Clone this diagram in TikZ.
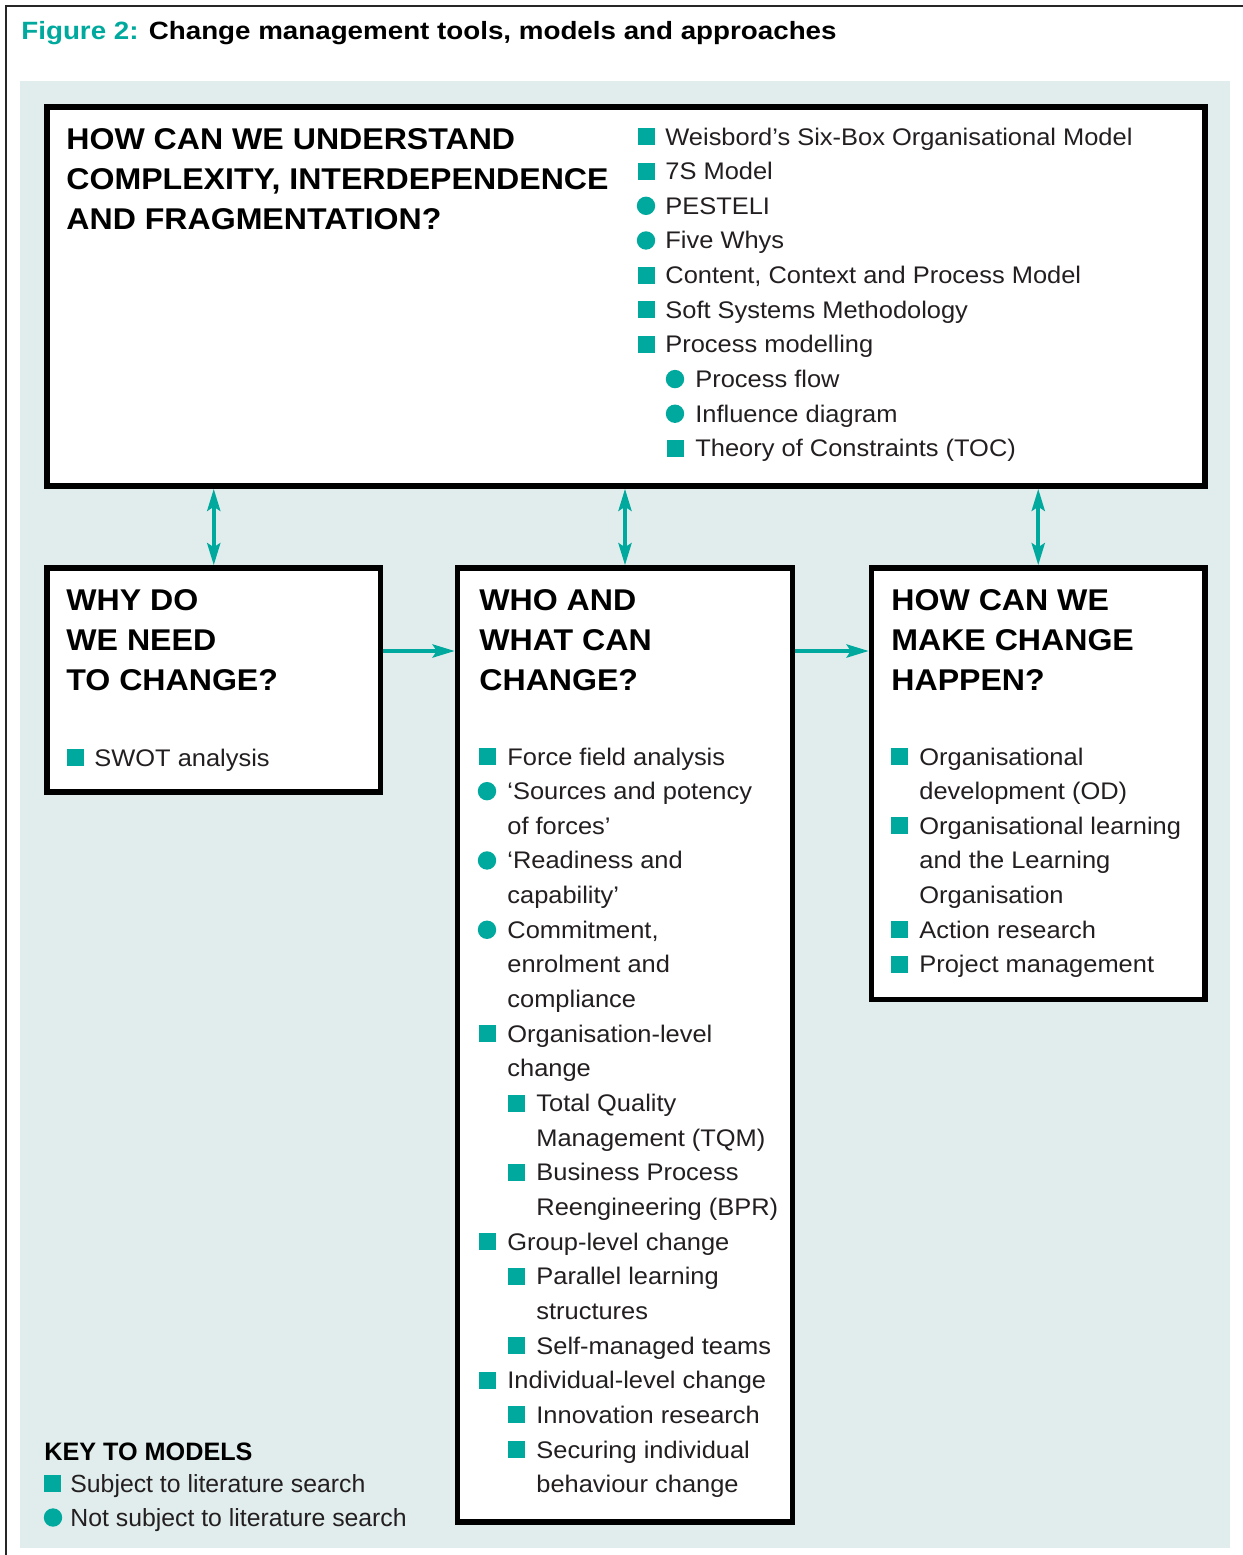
\documentclass[tikz,border=0pt]{standalone}
\usepackage{fontspec}
\setmainfont{Liberation Sans}
\newfontfamily\bodyf[FakeStretch=1.06]{Liberation Sans}
\newfontfamily\headf[FakeStretch=1.07]{Liberation Sans}
\newfontfamily\titlef[FakeStretch=1.11]{Liberation Sans}
\newfontfamily\keyf{Liberation Sans}
\usetikzlibrary{arrows.meta}
\definecolor{tealc}{RGB}{0,169,157}
\definecolor{bgc}{RGB}{225,237,237}
\definecolor{inkc}{RGB}{35,31,32}
\newcommand\tline[4]{\node[txt] (#1) at (#2,#3) {#4};}
\newcommand\hdline[4]{\node[head] (#1) at (#2,#3) {#4};}
\newcommand\bsq[2]{\fill[tealc] (#1,#2) rectangle ++(17,-17);}
\newcommand\bci[2]{\fill[tealc] (#1+9,#2-8.5) circle[radius=4.6pt];}
\begin{document}
\begin{tikzpicture}[x=0.5pt,y=-0.5pt,
  txt/.style={font=\bodyf\fontsize{12}{14}\selectfont, text=inkc, inner sep=0pt, anchor=base west},
  keytxt/.style={font=\keyf\fontsize{12.4}{14}\selectfont, text=inkc, inner sep=0pt, anchor=base west},
  head/.style={font=\headf\bfseries\fontsize{15}{18}\selectfont, text=black, inner sep=0pt, anchor=base west},
  keyhead/.style={font=\keyf\bfseries\fontsize{12.6}{14}\selectfont, text=black, inner sep=0pt, anchor=base west},
  box/.style={draw=black, line width=2.75pt, fill=white, inner sep=0pt, anchor=north west},
  arr/.style={draw=tealc, line width=2pt, -{Stealth[length=11pt,width=6.5pt,inset=2pt]}},
  dbl/.style={draw=tealc, line width=2pt, {Stealth[length=11pt,width=6.5pt,inset=2pt]}-{Stealth[length=11pt,width=6.5pt,inset=2pt]}}
]
\useasboundingbox (0,0) rectangle (1243,1555);
\fill[white] (0,0) rectangle (1243,1555);
% frame
\draw[line width=1pt, draw=black!85] (6,1555) -- (6,6) -- (1243,6);
% title
\node[font=\titlef\bfseries\fontsize{12.5}{14}\selectfont, inner sep=0pt, anchor=base west] (title) at (21,39)
  {\textcolor{tealc}{Figure 2:} Change management tools, models and approaches};
% background panel
\fill[bgc] (20,81) rectangle (1230,1548);
% boxes
\node[box, minimum width=579pt, minimum height=189.5pt] (top) at (44.25,104.25) {};
\node[box, minimum width=166.75pt, minimum height=112pt] (left) at (44.25,565.25) {};
\node[box, minimum width=167.5pt, minimum height=477pt] (mid) at (454.75,565.25) {};
\node[box, minimum width=166.75pt, minimum height=215.75pt] (right) at (868.75,565.25) {};
% connectors
\coordinate (hy) at (0,651);
\draw[dbl] (top.south -| left.north) -- (left.north);
\draw[dbl] (top.south -| mid.north) -- (mid.north);
\draw[dbl] (top.south -| right.north) -- (right.north);
\draw[arr] (left.east |- hy) -- (mid.west |- hy);
\draw[arr] (mid.east |- hy) -- (right.west |- hy);
% top box heading
\hdline{th1}{66}{149}{HOW CAN WE UNDERSTAND}
\hdline{th2}{66}{189}{COMPLEXITY, INTERDEPENDENCE}
\hdline{th3}{66}{229}{AND FRAGMENTATION?}
% top box list
\bsq{638}{145}\tline{t1}{665}{145}{Weisbord’s Six-Box Organisational Model}
\bsq{638}{179.65}\tline{t2}{665}{179.65}{7S Model}
\bci{637}{214.3}\tline{t3}{665}{214.3}{PESTELI}
\bci{637}{248.95}\tline{t4}{665}{248.95}{Five Whys}
\bsq{638}{283.6}\tline{t5}{665}{283.6}{Content, Context and Process Model}
\bsq{638}{318.25}\tline{t6}{665}{318.25}{Soft Systems Methodology}
\bsq{638}{352.9}\tline{t7}{665}{352.9}{Process modelling}
\bci{666}{387.55}\tline{t8}{695}{387.55}{Process flow}
\bci{666}{422.2}\tline{t9}{695}{422.2}{Influence diagram}
\bsq{667}{456.85}\tline{t10}{695}{456.85}{Theory of Constraints (TOC)}
% left box
\hdline{lh1}{66}{610}{WHY DO}
\hdline{lh2}{66}{650}{WE NEED}
\hdline{lh3}{66}{690}{TO CHANGE?}
\bsq{67}{766}\tline{l1}{94}{766}{SWOT analysis}
% middle box
\hdline{mh1}{479}{610}{WHO AND}
\hdline{mh2}{479}{650}{WHAT CAN}
\hdline{mh3}{479}{690}{CHANGE?}
\bsq{479}{765}\tline{m1}{507}{765}{Force field analysis}
\bci{478}{799.65}\tline{m2}{507}{799.65}{‘Sources and potency}
\tline{m3}{507}{834.3}{of forces’}
\bci{478}{868.95}\tline{m4}{507}{868.95}{‘Readiness and}
\tline{m5}{507}{903.6}{capability’}
\bci{478}{938.25}\tline{m6}{507}{938.25}{Commitment,}
\tline{m7}{507}{972.9}{enrolment and}
\tline{m8}{507}{1007.55}{compliance}
\bsq{479}{1042.2}\tline{m9}{507}{1042.2}{Organisation-level}
\tline{m10}{507}{1076.85}{change}
\bsq{508}{1111.5}\tline{m11}{536}{1111.5}{Total Quality}
\tline{m12}{536}{1146.15}{Management (TQM)}
\bsq{508}{1180.8}\tline{m13}{536}{1180.8}{Business Process}
\tline{m14}{536}{1215.45}{Reengineering (BPR)}
\bsq{479}{1250.1}\tline{m15}{507}{1250.1}{Group-level change}
\bsq{508}{1284.75}\tline{m16}{536}{1284.75}{Parallel learning}
\tline{m17}{536}{1319.4}{structures}
\bsq{508}{1354.05}\tline{m18}{536}{1354.05}{Self-managed teams}
\bsq{479}{1388.7}\tline{m19}{507}{1388.7}{Individual-level change}
\bsq{508}{1423.35}\tline{m20}{536}{1423.35}{Innovation research}
\bsq{508}{1458}\tline{m21}{536}{1458}{Securing individual}
\tline{m22}{536}{1492.65}{behaviour change}
% right box
\hdline{rh1}{891}{610}{HOW CAN WE}
\hdline{rh2}{891}{650}{MAKE CHANGE}
\hdline{rh3}{891}{690}{HAPPEN?}
\bsq{891}{765}\tline{r1}{919}{765}{Organisational}
\tline{r2}{919}{799.65}{development (OD)}
\bsq{891}{834.3}\tline{r3}{919}{834.3}{Organisational learning}
\tline{r4}{919}{868.95}{and the Learning}
\tline{r5}{919}{903.6}{Organisation}
\bsq{891}{938.25}\tline{r6}{919}{938.25}{Action research}
\bsq{891}{972.9}\tline{r7}{919}{972.9}{Project management}
% key
\node[keyhead] (kh) at (44,1460) {KEY TO MODELS};
\bsq{44}{1492}\node[keytxt] (k1) at (70,1492) {Subject to literature search};
\bci{44}{1526}\node[keytxt] (k2) at (70,1526) {Not subject to literature search};
\end{tikzpicture}
\end{document}
